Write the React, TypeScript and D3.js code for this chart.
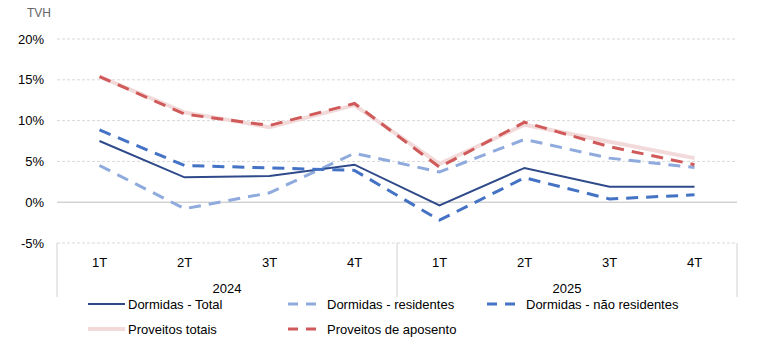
import React from 'react';
import { scaleBand, scaleLinear, line } from 'd3';

const quarters = ['1T', '2T', '3T', '4T', '1T', '2T', '3T', '4T'];
const years = ['2024', '2025'];
const yTicks = [-5, 0, 5, 10, 15, 20];

const dormidasTotal = [7.5, 3.05, 3.2, 4.6, -0.4, 4.2, 1.9, 1.9];
const dormidasResidentes = [4.5, -0.8, 1.15, 6.0, 3.7, 7.7, 5.4, 4.25];
const dormidasNaoResidentes = [8.85, 4.5, 4.2, 3.9, -2.2, 3.0, 0.4, 0.9];
const proveitosTotais = [15.4, 11.0, 9.2, 11.9, 4.7, 9.5, 7.4, 5.4];
const proveitosAposento = [15.4, 10.8, 9.4, 12.1, 4.3, 9.8, 6.8, 4.6];

const series = [
  { name: 'Proveitos totais', values: proveitosTotais, color: '#F3DADA', width: 4, dash: '' },
  { name: 'Dormidas - residentes', values: dormidasResidentes, color: '#8FAADC', width: 3, dash: '12,8' },
  { name: 'Dormidas - Total', values: dormidasTotal, color: '#2F4A8A', width: 2, dash: '' },
  { name: 'Dormidas - não residentes', values: dormidasNaoResidentes, color: '#4472C4', width: 3, dash: '12,8' },
  { name: 'Proveitos de aposento', values: proveitosAposento, color: '#D05A5A', width: 3, dash: '12,8' },
];

const legendOrder = [
  'Dormidas - Total',
  'Dormidas - residentes',
  'Dormidas - não residentes',
  'Proveitos totais',
  'Proveitos de aposento',
];

const W = 784;
const H = 362;
const left = 57;
const right = 737;
const font = '"Liberation Sans", Arial, sans-serif';

export default function App() {
  const x = scaleBand<number>()
    .domain(quarters.map((_, i) => i))
    .range([left, right]);
  const y = scaleLinear().domain([-5, 20]).range([243, 39]);
  const cx = (i: number) => (x(i) ?? 0) + x.bandwidth() / 2;

  const path = line<number>()
    .x((_, i) => cx(i))
    .y(d => y(d));

  const yearW = x.bandwidth() * 4;

  return (
    <div style={{ position: 'fixed', left: 0, top: 0 }}>
      <svg width={W} height={H} style={{ display: 'block', background: '#fff' }}>
        <text x={27} y={17} fontFamily={font} fontSize={12} fill="#666">TVH</text>

        {yTicks.map(t => (
          <g key={t}>
            <line
              x1={left}
              x2={right}
              y1={y(t)}
              y2={y(t)}
              stroke={t === 0 ? '#bdbdbd' : '#d9d9d9'}
              strokeWidth={1}
              strokeDasharray={t === 0 ? '' : '3,2'}
            />
            <text
              x={44}
              y={y(t)}
              dy="0.35em"
              textAnchor="end"
              fontFamily={font}
              fontSize={13}
              fill="#000"
            >
              {t}%
            </text>
          </g>
        ))}

        {[0, 4, 8].map(i => (
          <line
            key={i}
            x1={left + i * x.bandwidth()}
            x2={left + i * x.bandwidth()}
            y1={243}
            y2={297}
            stroke="#d0d0d0"
          />
        ))}

        {quarters.map((q, i) => (
          <text
            key={i}
            x={cx(i)}
            y={262}
            dy="0.35em"
            textAnchor="middle"
            fontFamily={font}
            fontSize={13}
          >
            {q}
          </text>
        ))}
        {years.map((yr, i) => (
          <text
            key={yr}
            x={left + yearW * i + yearW / 2}
            y={288}
            dy="0.35em"
            textAnchor="middle"
            fontFamily={font}
            fontSize={13}
          >
            {yr}
          </text>
        ))}

        {series.map(s => (
          <path
            key={s.name}
            d={path(s.values) ?? ''}
            fill="none"
            stroke={s.color}
            strokeWidth={s.width}
            strokeDasharray={s.dash}
          />
        ))}

        {legendOrder.map((name, k) => {
          const s = series.find(d => d.name === name)!;
          const col = k % 3;
          const row = Math.floor(k / 3);
          const lx = 88 + col * 199;
          const ly = 304 + row * 25;
          return (
            <g key={name}>
              {s.dash ? (
                <line x1={lx} x2={lx + 35} y1={ly} y2={ly} stroke={s.color} strokeWidth={3} strokeDasharray="10,8" strokeDashoffset={-1} />
              ) : (
                <line x1={lx} x2={lx + 37} y1={ly} y2={ly} stroke={s.color} strokeWidth={s.width} />
              )}
              <text x={lx + 40} y={ly} dy="0.35em" fontFamily={font} fontSize={13}>
                {name}
              </text>
            </g>
          );
        })}
      </svg>
    </div>
  );
}
